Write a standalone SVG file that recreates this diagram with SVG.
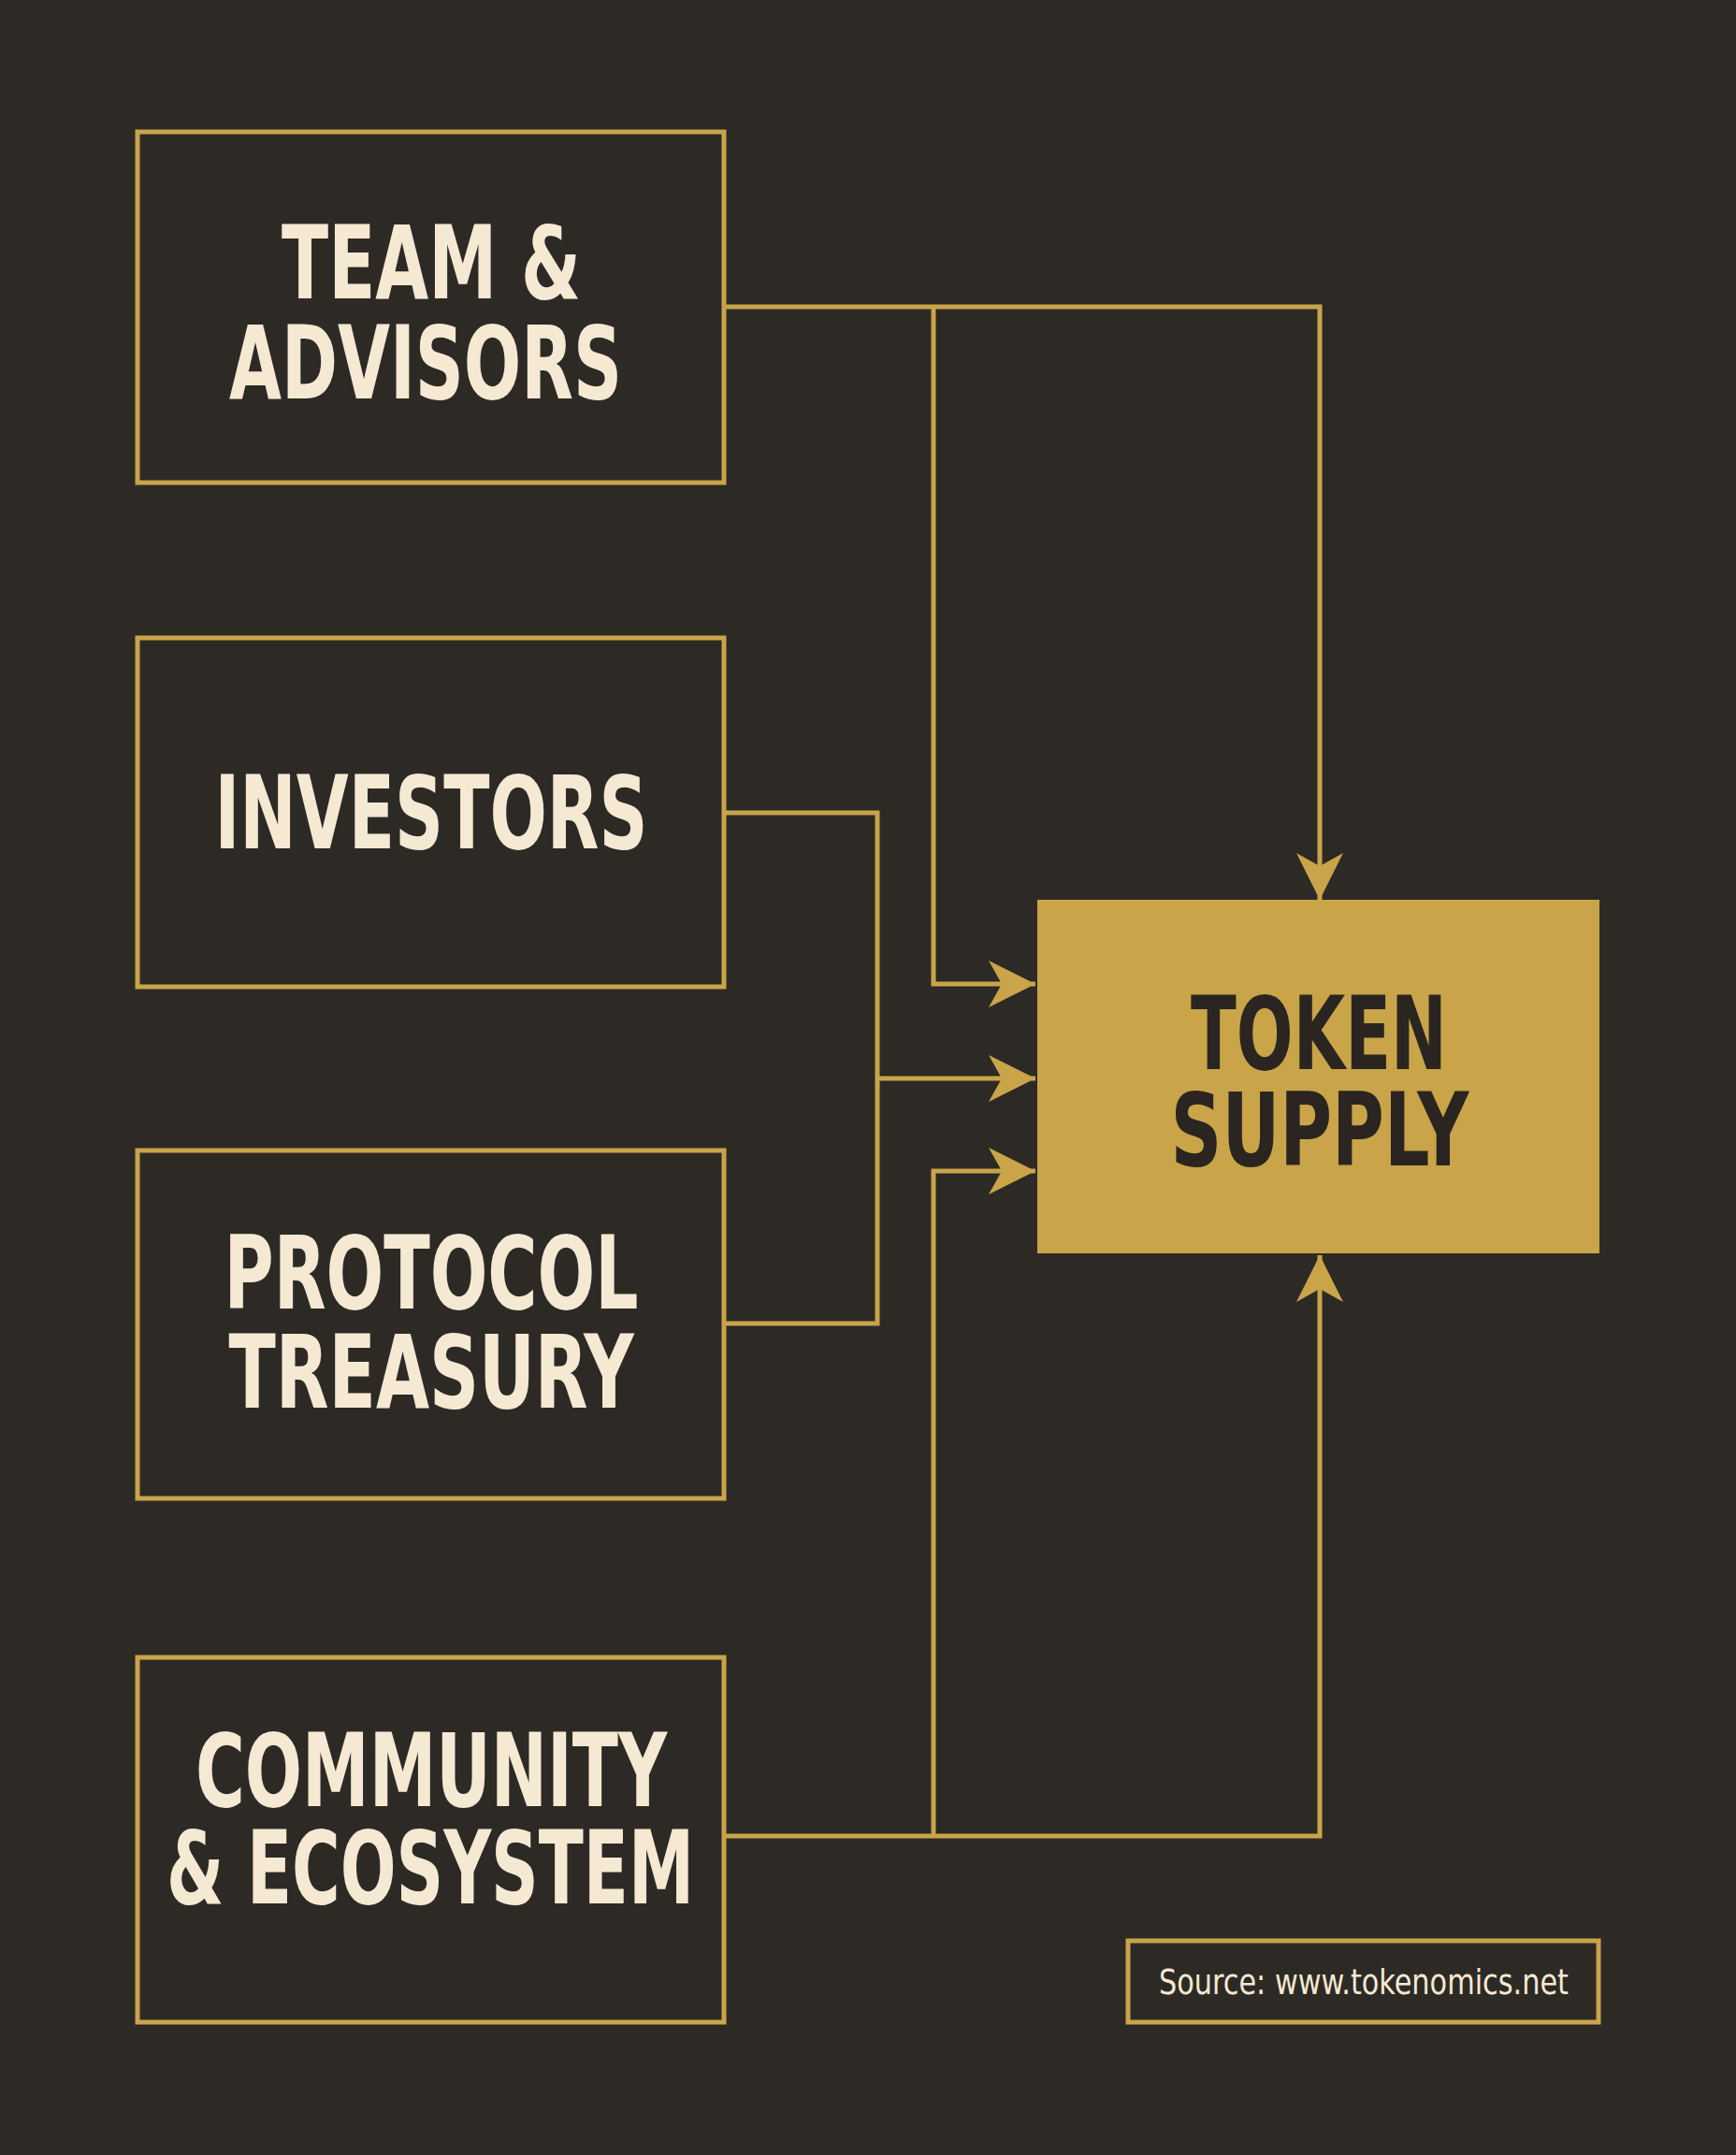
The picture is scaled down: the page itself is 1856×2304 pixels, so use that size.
<svg xmlns="http://www.w3.org/2000/svg" width="1856" height="2304" viewBox="0 0 1856 2304">
<style>
.box{fill:none;stroke:#c9a449;stroke-width:5}
.t{font-family:"Liberation Sans Narrow","DejaVu Sans Condensed","Liberation Sans",sans-serif;font-weight:bold;font-size:108px;fill:#f5e9d3;text-anchor:middle}
.d{fill:#2a2520}
.c{fill:none;stroke:#c9a449;stroke-width:5}
</style>
<defs>
<marker id="ah" markerUnits="userSpaceOnUse" markerWidth="60" markerHeight="60" refX="50" refY="25" orient="auto">
<path d="M0,0 L50,25 L0,50 L14,25 Z" fill="#c9a449"/>
</marker>
</defs>
<rect width="1856" height="2304" fill="#2d2a26"/>
<g id="connectors">
<path class="c" d="M774,328 H1411 V962" marker-end="url(#ah)"/>
<path class="c" d="M998,328 V1052 H1107" marker-end="url(#ah)"/>
<path class="c" d="M774,869 H938 V1415 H774"/>
<path class="c" d="M938,1153 H1107" marker-end="url(#ah)"/>
<path class="c" d="M774,1963 H1411 V1342" marker-end="url(#ah)"/>
<path class="c" d="M998,1963 V1252 H1107" marker-end="url(#ah)"/>
</g>
<g id="team"><rect class="box" x="147" y="141" width="627" height="375"/>
<text class="t" x="461" y="319" textLength="320" lengthAdjust="spacingAndGlyphs">TEAM &amp;</text>
<text class="t" x="455" y="426" textLength="420" lengthAdjust="spacingAndGlyphs">ADVISORS</text></g>
<g id="investors"><rect class="box" x="147" y="682" width="627" height="373"/>
<text class="t" x="461" y="907" textLength="463" lengthAdjust="spacingAndGlyphs">INVESTORS</text></g>
<g id="protocol"><rect class="box" x="147" y="1230" width="627" height="372"/>
<text class="t" x="461" y="1399" textLength="443" lengthAdjust="spacingAndGlyphs">PROTOCOL</text>
<text class="t" x="461" y="1505" textLength="433" lengthAdjust="spacingAndGlyphs">TREASURY</text></g>
<g id="community"><rect class="box" x="147" y="1772" width="627" height="390"/>
<text class="t" x="461" y="1931" textLength="504" lengthAdjust="spacingAndGlyphs">COMMUNITY</text>
<text class="t" x="460" y="2035" textLength="564" lengthAdjust="spacingAndGlyphs">&amp; ECOSYSTEM</text></g>
<g id="token"><rect x="1109" y="962" width="601" height="378" fill="#c9a449"/>
<text class="t d" x="1410" y="1143" textLength="274" lengthAdjust="spacingAndGlyphs">TOKEN</text>
<text class="t d" x="1411" y="1246" textLength="319" lengthAdjust="spacingAndGlyphs">SUPPLY</text></g>
<g id="source"><rect class="box" x="1206" y="2075" width="503" height="87"/>
<text x="1458" y="2132" font-family="'Liberation Sans Narrow','DejaVu Sans Condensed',sans-serif" font-size="38" fill="#f5e9d3" text-anchor="middle" textLength="438" lengthAdjust="spacingAndGlyphs">Source: www.tokenomics.net</text></g>
</svg>
